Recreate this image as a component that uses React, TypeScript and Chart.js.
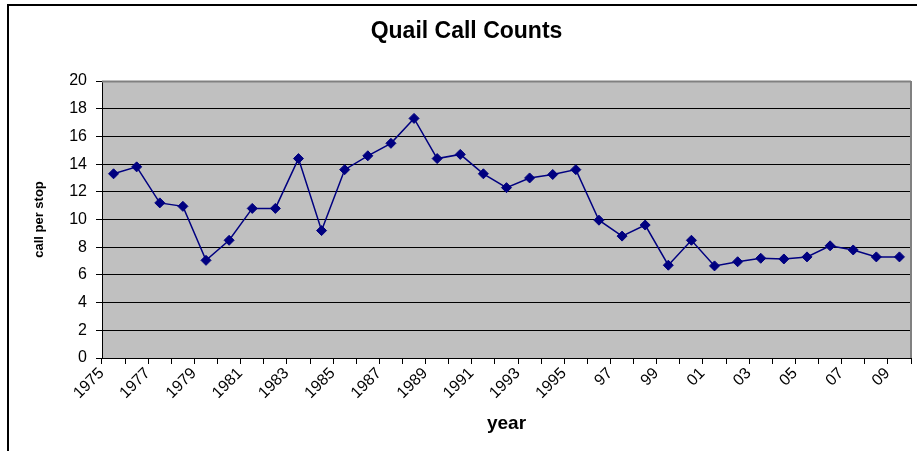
import React, { useEffect, useRef } from "react";
import { Chart, registerables } from "chart.js";

Chart.register(...registerables);

const categories: string[] = [
  "1975", "1976", "1977", "1978", "1979", "1980", "1981", "1982", "1983", "1984",
  "1985", "1986", "1987", "1988", "1989", "1990", "1991", "1992", "1993", "1994",
  "1995", "96", "97", "98", "99", "00", "01", "02", "03", "04",
  "05", "06", "07", "08", "09",
];

const callsPerStop: number[] = [
  13.3, 13.8, 11.2, 10.95, 7.05, 8.5, 10.8, 10.8, 14.4, 9.2,
  13.6, 14.6, 15.5, 17.3, 14.4, 14.7, 13.3, 12.3, 13.0, 13.25,
  13.6, 9.95, 8.8, 9.6, 6.7, 8.5, 6.65, 6.95, 7.2, 7.15,
  7.3, 8.1, 7.8, 7.3, 7.3,
];

const titleText = "Quail Call Counts";
const xTitle = "year";
const yTitle = "call per stop";

const FONT = "'Liberation Sans', Arial, sans-serif";

const framePlugin = {
  id: "frame",
  beforeDraw(chart: any) {
    const { ctx, chartArea, width, height } = chart;
    ctx.save();
    ctx.fillStyle = "#ffffff";
    ctx.fillRect(0, 0, width, height);
    ctx.strokeStyle = "#000000";
    ctx.lineWidth = 2;
    ctx.beginPath();
    ctx.moveTo(8, height);
    ctx.lineTo(8, 5);
    ctx.lineTo(width, 5);
    ctx.stroke();
    ctx.fillStyle = "#c0c0c0";
    ctx.fillRect(chartArea.left, chartArea.top, chartArea.right - chartArea.left, chartArea.bottom - chartArea.top);
    ctx.restore();
  },
  beforeDatasetsDraw(chart: any) {
    const { ctx, chartArea } = chart;
    ctx.save();
    ctx.strokeStyle = "#808080";
    ctx.lineWidth = 2;
    ctx.beginPath();
    ctx.moveTo(chartArea.right, chartArea.top);
    ctx.lineTo(chartArea.right, chartArea.bottom);
    ctx.moveTo(chartArea.left, chartArea.top + 0.5);
    ctx.lineTo(chartArea.right, chartArea.top + 0.5);
    ctx.stroke();
    ctx.restore();
  },
};

export default function App() {
  const canvasRef = useRef<HTMLCanvasElement | null>(null);

  useEffect(() => {
    if (!canvasRef.current) return;
    const chart = new Chart(canvasRef.current, {
      type: "line",
      data: {
        labels: categories,
        datasets: [
          {
            label: yTitle,
            data: callsPerStop,
            borderColor: "#000080",
            backgroundColor: "#000080",
            borderWidth: 1.5,
            pointStyle: "rectRot",
            pointRadius: 5,
            pointBorderWidth: 1,
            pointBackgroundColor: "#000080",
            pointBorderColor: "#000080",
            tension: 0,
          },
        ],
      },
      options: {
        animation: false,
        responsive: false,
        devicePixelRatio: 1,
        layout: { padding: { left: 20, right: 4, top: 0, bottom: 0 } },
        plugins: {
          legend: { display: false },
          tooltip: { enabled: false },
          title: {
            display: true,
            text: titleText,
            color: "#000",
            font: { family: FONT, size: 23, weight: "bold" },
            padding: { top: 18, bottom: 35.4 },
          },
        },
        scales: {
          x: {
            type: "category",
            offset: true,
            afterFit: (s: any) => {
              s.height = 93;
            },
            grid: {
              display: true,
              offset: true,
              drawOnChartArea: false,
              drawTicks: true,
              tickLength: 6,
              color: "#000",
            },
            border: { display: true, color: "#000", width: 1 },
            ticks: {
              autoSkip: false,
              maxRotation: 45,
              minRotation: 45,
              padding: 0,
              labelOffset: -12,
              color: "#000",
              font: { family: FONT, size: 16 },
              callback: (_v: any, i: number) => (i % 2 === 0 ? categories[i] : ""),
            },
            title: {
              display: true,
              text: xTitle,
              color: "#000",
              font: { family: FONT, size: 19, weight: "bold" },
              padding: { top: 0, bottom: 16 },
            },
          },
          y: {
            min: 0,
            max: 20,
            afterFit: (s: any) => {
              s.width = 82;
            },
            grid: {
              color: "#000",
              lineWidth: 1,
              tickLength: 6,
              drawTicks: true,
            },
            border: { display: true, color: "#000", width: 1 },
            ticks: {
              stepSize: 2,
              padding: 9,
              color: "#000",
              font: { family: FONT, size: 16 },
            },
            title: {
              display: true,
              text: yTitle,
              color: "#000",
              font: { family: FONT, size: 13, weight: "bold" },
              padding: { top: 12, bottom: 0 },
            },
          },
        },
      },
      plugins: [framePlugin],
    });
    return () => chart.destroy();
  }, []);

  return (
    <div style={{ position: "fixed", left: 0, top: 0, width: 917, height: 451, background: "#fff" }}>
      <canvas ref={canvasRef} width={917} height={451} style={{ display: "block", width: 917, height: 451 }} />
    </div>
  );
}
